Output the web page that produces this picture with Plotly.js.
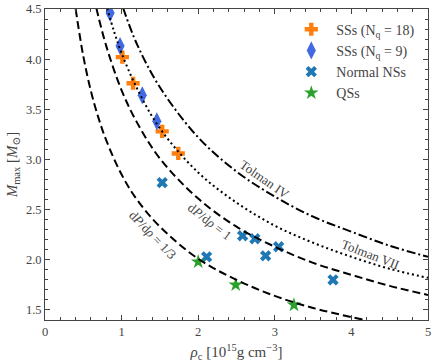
<!DOCTYPE html>
<html>
<head>
<meta charset="utf-8">
<script src="https://cdn.plot.ly/plotly-3.0.1.min.js"></script>
<style>html,body{margin:0;padding:0;background:#fff;}#chart{width:436px;height:362px;}</style>
</head>
<body>
<div id="chart"></div>
<script>
// Marker data (rho_c in 1e15 g/cm^3, M_max in solar masses)
const ss18Rho = [1.01, 1.15, 1.53, 1.74];
const ss18M   = [4.02, 3.76, 3.28, 3.06];
const ss9Rho  = [0.85, 0.98, 1.27, 1.46];
const ss9M    = [4.46, 4.13, 3.64, 3.38];
const nsRho   = [1.53, 2.11, 2.58, 2.74, 2.88, 3.05, 3.76];
const nsM     = [2.77, 2.03, 2.24, 2.21, 2.04, 2.13, 1.80];
const qsRho   = [2.00, 2.49, 3.25];
const qsM     = [1.98, 1.75, 1.55];

// Curves
const causal3Rho = [0.40, 0.50, 0.60, 0.70, 0.80, 1.00, 1.20, 1.50, 2.00, 2.50, 3.00, 3.50, 4.17];
const causal3M   = [4.50, 4.03, 3.68, 3.41, 3.19, 2.85, 2.60, 2.33, 2.01, 1.80, 1.64, 1.52, 1.40];
const causal1Rho = [0.67, 0.80, 1.00, 1.20, 1.50, 2.00, 2.50, 3.00, 3.50, 4.00, 4.50, 5.00];
const causal1M   = [4.51, 4.13, 3.69, 3.37, 3.01, 2.61, 2.33, 2.13, 1.97, 1.85, 1.74, 1.65];
const tolVIIRho  = [0.81, 0.90, 1.00, 1.20, 1.50, 2.00, 2.50, 3.00, 3.50, 4.00, 4.50, 5.00];
const tolVIIM    = [4.51, 4.28, 4.06, 3.71, 3.31, 2.87, 2.57, 2.34, 2.17, 2.03, 1.91, 1.82];
const tolIVRho   = [1.02, 1.20, 1.50, 2.00, 2.50, 3.00, 3.50, 4.00, 4.50, 5.00];
const tolIVM     = [4.51, 4.15, 3.72, 3.22, 2.88, 2.63, 2.43, 2.28, 2.14, 2.03];

const xTicks = [0, 1, 2, 3, 4, 5];
const yTicks = [1.5, 2.0, 2.5, 3.0, 3.5, 4.0, 4.5];
const yTickText = ['1.5', '2.0', '2.5', '3.0', '3.5', '4.0', '4.5'];

const serif = 'Liberation Serif, DejaVu Serif, serif';

const traces = [
  {x: ss18Rho, y: ss18M, mode: 'markers', name: 'SSs (N<sub>q</sub> = 18)',
   marker: {symbol: 'cross', size: 11, color: '#ff7f0e'}},
  {x: ss9Rho, y: ss9M, mode: 'markers', name: 'SSs (N<sub>q</sub> = 9)',
   marker: {symbol: 'diamond-tall', size: 13, color: '#4169e1'}},
  {x: nsRho, y: nsM, mode: 'markers', name: 'Normal NSs',
   marker: {symbol: 'x', size: 10, color: '#1f77b4'}},
  {x: qsRho, y: qsM, mode: 'markers', name: 'QSs',
   marker: {symbol: 'star', size: 11, color: '#2ca02c'}},
  {x: causal3Rho, y: causal3M, mode: 'lines', showlegend: false,
   line: {color: '#000', width: 2, dash: '8px,4px', shape: 'spline'}},
  {x: causal1Rho, y: causal1M, mode: 'lines', showlegend: false,
   line: {color: '#000', width: 2, dash: '8px,4px', shape: 'spline'}},
  {x: tolVIIRho, y: tolVIIM, mode: 'lines', showlegend: false,
   line: {color: '#000', width: 2, dash: '2px,3px', shape: 'spline'}},
  {x: tolIVRho, y: tolIVM, mode: 'lines', showlegend: false,
   line: {color: '#000', width: 2, dash: '9px,3px,2px,3px', shape: 'spline'}}
];

const annFont = {family: serif, size: 13, color: '#444'};
const layout = {
  width: 436, height: 362,
  margin: {l: 45, r: 7.5, t: 9.3, b: 42},
  paper_bgcolor: '#fff', plot_bgcolor: '#fff',
  font: {family: serif, size: 12, color: '#444'},
  showlegend: true,
  legend: {x: 0.630, y: 0.985, xanchor: 'left', yanchor: 'top', itemwidth: 40,
           bgcolor: 'rgba(0,0,0,0)', font: {family: serif, size: 14, color: '#444'},
           tracegroupgap: 0},
  xaxis: {
    range: [0, 5], tickvals: xTicks, ticks: 'inside', ticklen: 5, tickcolor: '#444',
    showline: true, linecolor: '#444', linewidth: 1, mirror: 'allticks',
    showgrid: false, zeroline: false,
    minor: {dtick: 0.2, ticks: 'inside', ticklen: 3, tickcolor: '#444', showgrid: false},
    tickfont: {family: serif, size: 12.5, color: '#444'},
    title: {text: '<i>ρ</i><sub>c</sub> [10<sup>15</sup>g cm<sup>−3</sup>]', standoff: 8,
            font: {family: serif, size: 15, color: '#444'}}
  },
  yaxis: {
    range: [1.4, 4.5], tickvals: yTicks, ticktext: yTickText, ticks: 'inside', ticklen: 5, tickcolor: '#444',
    showline: true, linecolor: '#444', linewidth: 1, mirror: 'allticks',
    showgrid: false, zeroline: false,
    minor: {dtick: 0.1, ticks: 'inside', ticklen: 3, tickcolor: '#444', showgrid: false},
    tickfont: {family: serif, size: 12.5, color: '#444'},
    title: {text: '<i>M</i><sub>max</sub> [<i>M</i><sub>⊙</sub>]', standoff: 4,
            font: {family: serif, size: 15, color: '#444'}}
  },
  annotations: [
    {text: 'Tolman IV', x: 2.87, y: 2.80, xref: 'x', yref: 'y', showarrow: false, textangle: 35, font: annFont},
    {text: 'Tolman VII', x: 4.25, y: 2.05, xref: 'x', yref: 'y', showarrow: false, textangle: 21, font: annFont},
    {text: 'd<i>P</i>/d<i>ρ</i> = 1', x: 2.15, y: 2.38, xref: 'x', yref: 'y', showarrow: false, textangle: 38, font: annFont},
    {text: 'd<i>P</i>/d<i>ρ</i> = 1/3', x: 1.40, y: 2.25, xref: 'x', yref: 'y', showarrow: false, textangle: 46, font: annFont}
  ]
};

Plotly.newPlot('chart', traces, layout, {displayModeBar: false, staticPlot: true});
</script>
</body>
</html>
